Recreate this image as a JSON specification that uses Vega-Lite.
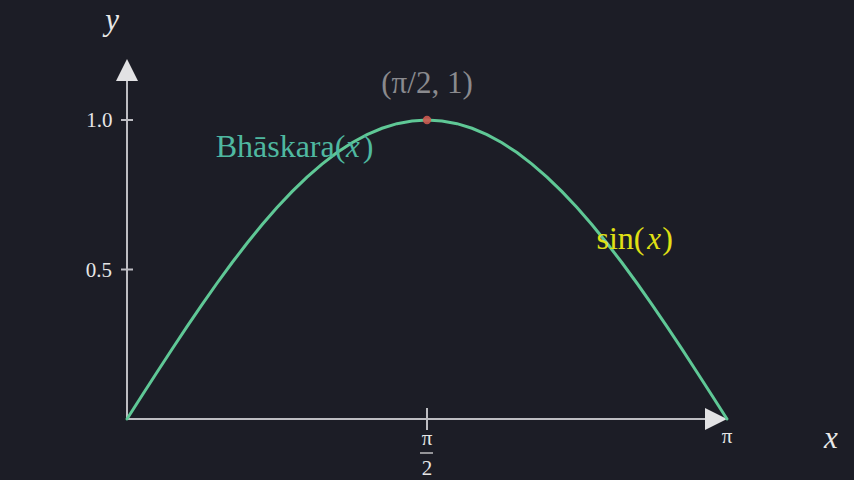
{
  "$schema": "https://vega.github.io/schema/vega-lite/v6.json",
  "width": 854,
  "height": 480,
  "autosize": {"type": "none"},
  "padding": 0,
  "background": "#1c1d26",
  "config": {"view": {"stroke": null}},
  "datasets": {
    "curve": [
      {"x": 0, "y": 0},
      {"x": 0.07854, "y": 0.07846},
      {"x": 0.15708, "y": 0.15643},
      {"x": 0.23562, "y": 0.23345},
      {"x": 0.31416, "y": 0.30902},
      {"x": 0.3927, "y": 0.38268},
      {"x": 0.47124, "y": 0.45399},
      {"x": 0.54978, "y": 0.5225},
      {"x": 0.62832, "y": 0.58779},
      {"x": 0.70686, "y": 0.64945},
      {"x": 0.7854, "y": 0.70711},
      {"x": 0.86394, "y": 0.76041},
      {"x": 0.94248, "y": 0.80902},
      {"x": 1.02102, "y": 0.85264},
      {"x": 1.09956, "y": 0.89101},
      {"x": 1.1781, "y": 0.92388},
      {"x": 1.25664, "y": 0.95106},
      {"x": 1.33518, "y": 0.97237},
      {"x": 1.41372, "y": 0.98769},
      {"x": 1.49226, "y": 0.99692},
      {"x": 1.5708, "y": 1.0},
      {"x": 1.64934, "y": 0.99692},
      {"x": 1.72788, "y": 0.98769},
      {"x": 1.80642, "y": 0.97237},
      {"x": 1.88496, "y": 0.95106},
      {"x": 1.9635, "y": 0.92388},
      {"x": 2.04204, "y": 0.89101},
      {"x": 2.12058, "y": 0.85264},
      {"x": 2.19911, "y": 0.80902},
      {"x": 2.27765, "y": 0.76041},
      {"x": 2.35619, "y": 0.70711},
      {"x": 2.43473, "y": 0.64945},
      {"x": 2.51327, "y": 0.58779},
      {"x": 2.59181, "y": 0.5225},
      {"x": 2.67035, "y": 0.45399},
      {"x": 2.74889, "y": 0.38268},
      {"x": 2.82743, "y": 0.30902},
      {"x": 2.90597, "y": 0.23345},
      {"x": 2.98451, "y": 0.15643},
      {"x": 3.06305, "y": 0.07846},
      {"x": 3.14159, "y": 0}
    ],
    "axes": [
      {"axis": "x", "x": 0, "y": 0, "x2": 3.0317, "y2": 0},
      {"axis": "y", "x": 0, "y": 0, "x2": 0, "y2": 1.1304},
      {"axis": "tick1", "x": -0.0314, "y": 1, "x2": 0.0314, "y2": 1},
      {"axis": "tick05", "x": -0.0314, "y": 0.5, "x2": 0.0314, "y2": 0.5},
      {"axis": "tickpi2", "x": 1.5708, "y": -0.0368, "x2": 1.5708, "y2": 0.0368}
    ],
    "fracbar": [
      {"x": 1.5342, "y": -0.1137, "x2": 1.6022, "y2": -0.1137}
    ],
    "arrows": [
      {"axis": "x", "x": 3.14159, "y": 0},
      {"axis": "y", "x": 0, "y": 1.204}
    ],
    "peak": [
      {"x": 1.5708, "y": 1.0}
    ],
    "ticklabels": [
      {"text": "1.0", "x": -0.144, "y": 0.9766},
      {"text": "0.5", "x": -0.147, "y": 0.4749},
      {"text": "π", "x": 3.14159, "y": -0.0803},
      {"text": "π", "x": 1.5708, "y": -0.087},
      {"text": "2", "x": 1.5708, "y": -0.187}
    ],
    "words": [
      {"text": "Bhāskara(", "group": "bhaskara", "x": 0.8037, "y": 0.876},
      {"text": ")", "group": "bhaskara", "x": 1.2619, "y": 0.876},
      {"text": "sin(", "group": "sin", "x": 2.5839, "y": 0.5686},
      {"text": ")", "group": "sin", "x": 2.83, "y": 0.5686}
    ],
    "note": [
      {"text": "(π/2, 1)", "x": 1.5708, "y": 1.09}
    ],
    "vars": [
      {"text": "x", "group": "bhaskara", "x": 1.1833, "y": 0.876},
      {"text": "x", "group": "sin", "x": 2.7594, "y": 0.5686},
      {"text": "y", "group": "axis", "x": -0.0785, "y": 1.301},
      {"text": "x", "group": "axis", "x": 3.686, "y": -0.097}
    ]
  },
  "encoding": {
    "x": {"field": "x", "type": "quantitative", "axis": null,
          "scale": {"domain": [-0.664971, 3.806565], "nice": false, "zero": false}},
    "y": {"field": "y", "type": "quantitative", "axis": null,
          "scale": {"domain": [-0.204013, 1.401338], "nice": false, "zero": false}}
  },
  "layer": [
    {
      "data": {"name": "axes"},
      "mark": {"type": "rule", "color": "#bdbdc2", "strokeWidth": 2},
      "encoding": {
        "x2": {"field": "x2"},
        "y2": {"field": "y2"}
      }
    },
    {
      "data": {"name": "arrows"},
      "mark": {"type": "point", "filled": true, "opacity": 1, "color": "#e2e2e4", "strokeWidth": 0},
      "encoding": {
        "shape": {"field": "axis", "type": "nominal", "legend": null,
                  "scale": {"domain": ["x", "y"], "range": ["M0,0 L-2,-1 L-2,1 Z", "M0,0 L-1,2 L1,2 Z"]}},
        "size": {"value": 484}
      }
    },
    {
      "data": {"name": "curve"},
      "mark": {"type": "line", "color": "#5fc896", "strokeWidth": 3, "strokeCap": "round"},
      "encoding": {}
    },
    {
      "data": {"name": "peak"},
      "mark": {"type": "point", "filled": true, "color": "#cc5a50", "opacity": 0.9, "size": 70, "strokeWidth": 0},
      "encoding": {}
    },
    {
      "data": {"name": "fracbar"},
      "mark": {"type": "rule", "color": "#e6e6e6", "strokeWidth": 1.2},
      "encoding": {
        "x2": {"field": "x2"},
        "y2": {"field": "y2"}
      }
    },
    {
      "data": {"name": "ticklabels"},
      "mark": {"type": "text", "font": "Liberation Serif, serif", "fontSize": 21, "align": "center", "baseline": "alphabetic", "color": "#e6e6e6"},
      "encoding": {"text": {"field": "text"}}
    },
    {
      "data": {"name": "note"},
      "mark": {"type": "text", "font": "Liberation Serif, serif", "fontSize": 31, "align": "center", "baseline": "alphabetic", "color": "#8a8a8e"},
      "encoding": {"text": {"field": "text"}}
    },
    {
      "data": {"name": "words"},
      "mark": {"type": "text", "font": "Liberation Serif, serif", "fontSize": 32, "align": "center", "baseline": "alphabetic"},
      "encoding": {
        "text": {"field": "text"},
        "color": {"field": "group", "type": "nominal", "legend": null,
                  "scale": {"domain": ["bhaskara", "sin", "axis"], "range": ["#4fb8a0", "#e0e014", "#e8e8e8"]}}
      }
    },
    {
      "data": {"name": "vars"},
      "mark": {"type": "text", "font": "Liberation Serif, serif", "fontStyle": "italic", "fontSize": 31, "align": "center", "baseline": "alphabetic"},
      "encoding": {
        "text": {"field": "text"},
        "color": {"field": "group", "type": "nominal", "legend": null,
                  "scale": {"domain": ["bhaskara", "sin", "axis"], "range": ["#4fb8a0", "#e0e014", "#e8e8e8"]}}
      }
    }
  ]
}
